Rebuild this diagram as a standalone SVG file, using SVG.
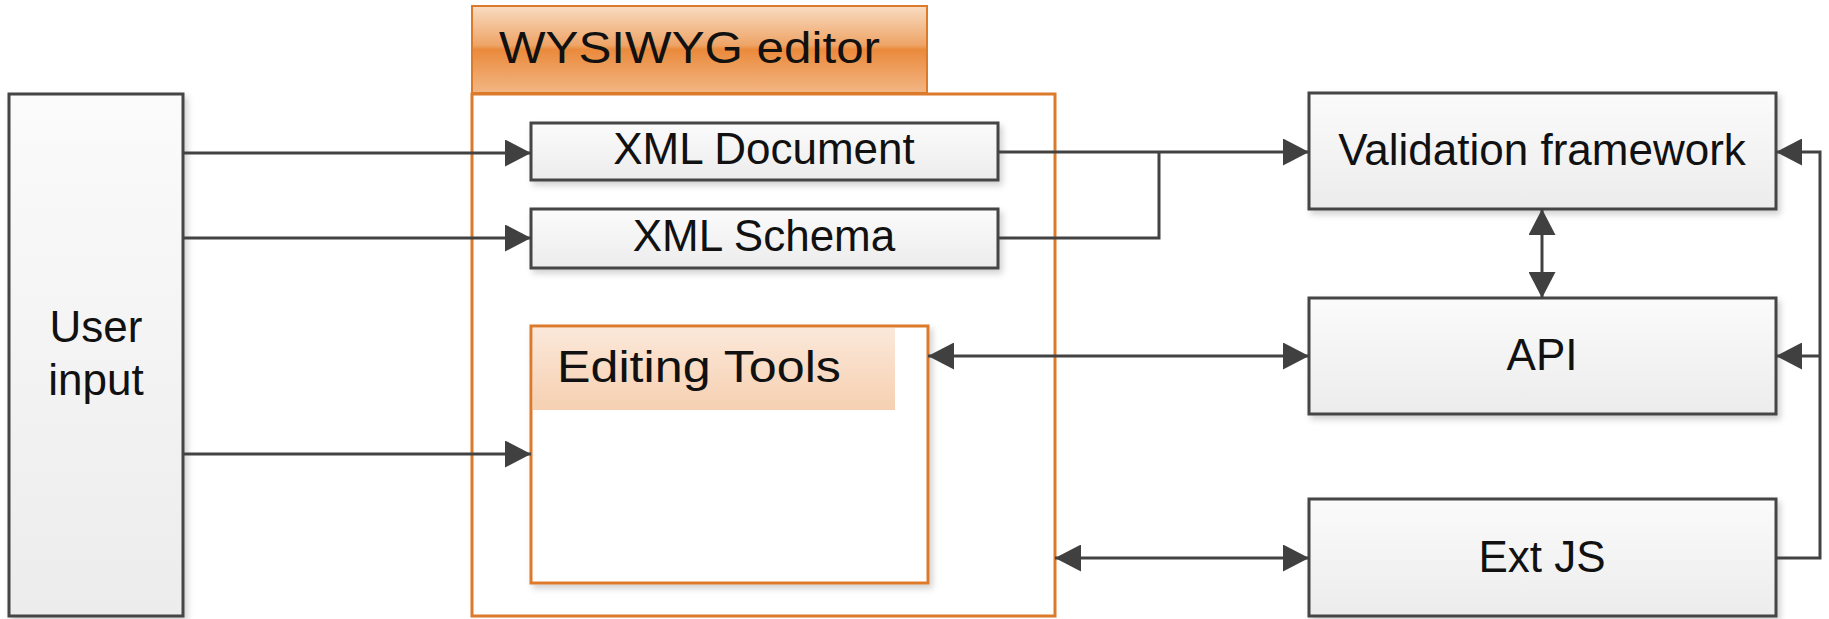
<svg xmlns="http://www.w3.org/2000/svg" width="1829" height="619" viewBox="0 0 1829 619">
<defs>
<style>
.box{stroke:#454545;stroke-width:3;fill:url(#gray)}
.orange{stroke:#dc7a2b;stroke-width:3;fill:none}
.lbl{font-family:"Liberation Sans",Arial,sans-serif;font-size:44px;fill:#111}
.c{text-anchor:middle}
.line{stroke:#424242;stroke-width:3;fill:none}
</style>
<linearGradient id="gray" x1="0" y1="0" x2="0" y2="1">
<stop offset="0" stop-color="#fbfbfb"/>
<stop offset="1" stop-color="#ececec"/>
</linearGradient>
<linearGradient id="hdr" x1="0" y1="0" x2="0" y2="1">
<stop offset="0" stop-color="#f9dcc2"/>
<stop offset="0.45" stop-color="#eea467"/>
<stop offset="0.5" stop-color="#ea8a3c"/>
<stop offset="1" stop-color="#f3b684"/>
</linearGradient>
<linearGradient id="peach" x1="0" y1="0" x2="0" y2="1">
<stop offset="0" stop-color="#fbe8da"/>
<stop offset="1" stop-color="#f6d0b1"/>
</linearGradient>
<filter id="sh" x="-10%" y="-10%" width="130%" height="130%">
<feDropShadow dx="3" dy="4" stdDeviation="3" flood-color="#000" flood-opacity="0.18"/>
</filter>
<marker id="ah" viewBox="0 0 26 27" refX="26" refY="13.5" markerWidth="26" markerHeight="27" markerUnits="userSpaceOnUse" orient="auto-start-reverse">
<path d="M0,0 L26,13.5 L0,27 z" fill="#404040"/>
</marker>
</defs>

<g id="user-input">
<rect class="box" x="9" y="94" width="174" height="522" filter="url(#sh)"/>
<text class="lbl c" x="96" y="342">User</text>
<text class="lbl c" x="96" y="395">input</text>
</g>

<g id="wysiwyg-editor">
<rect x="472" y="6" width="455" height="87" fill="url(#hdr)" stroke="#dc7a2b" stroke-width="2"/>
<text class="lbl" x="499" y="63" textLength="381" lengthAdjust="spacingAndGlyphs">WYSIWYG editor</text>
<rect class="orange" x="472" y="94" width="583" height="522"/>
</g>

<g id="xml-document">
<rect class="box" x="531" y="123" width="467" height="57" filter="url(#sh)"/>
<text class="lbl c" x="764" y="164">XML Document</text>
</g>

<g id="xml-schema">
<rect class="box" x="531" y="209" width="467" height="59" filter="url(#sh)"/>
<text class="lbl c" x="764" y="251">XML Schema</text>
</g>

<g id="editing-tools">
<rect x="531" y="326" width="397" height="257" fill="#fff" stroke="#dc7a2b" stroke-width="3" filter="url(#sh)"/>
<rect x="533" y="328" width="362" height="82" fill="url(#peach)"/>
<text class="lbl" x="557" y="382" textLength="284" lengthAdjust="spacingAndGlyphs">Editing Tools</text>
</g>

<g id="validation-framework">
<rect class="box" x="1309" y="93" width="467" height="116" filter="url(#sh)"/>
<text class="lbl c" x="1542" y="165">Validation framework</text>
</g>

<g id="api">
<rect class="box" x="1309" y="298" width="467" height="116" filter="url(#sh)"/>
<text class="lbl c" x="1542" y="370">API</text>
</g>

<g id="ext-js">
<rect class="box" x="1309" y="499" width="467" height="117" filter="url(#sh)"/>
<text class="lbl c" x="1542" y="572">Ext JS</text>
</g>

<g id="connectors">
<path class="line" d="M183,153 H531" marker-end="url(#ah)"/>
<path class="line" d="M183,238 H531" marker-end="url(#ah)"/>
<path class="line" d="M183,454 H531" marker-end="url(#ah)"/>
<path class="line" d="M998,152 H1309" marker-end="url(#ah)"/>
<path class="line" d="M998,238 H1159 V152"/>
<path class="line" d="M1542,209 V298" marker-start="url(#ah)" marker-end="url(#ah)"/>
<path class="line" d="M928,356 H1309" marker-start="url(#ah)" marker-end="url(#ah)"/>
<path class="line" d="M1055,558 H1309" marker-start="url(#ah)" marker-end="url(#ah)"/>
<path class="line" d="M1776,558 H1820 V152 H1776" marker-end="url(#ah)"/>
<path class="line" d="M1820,356 H1776" marker-end="url(#ah)"/>
</g>
</svg>
